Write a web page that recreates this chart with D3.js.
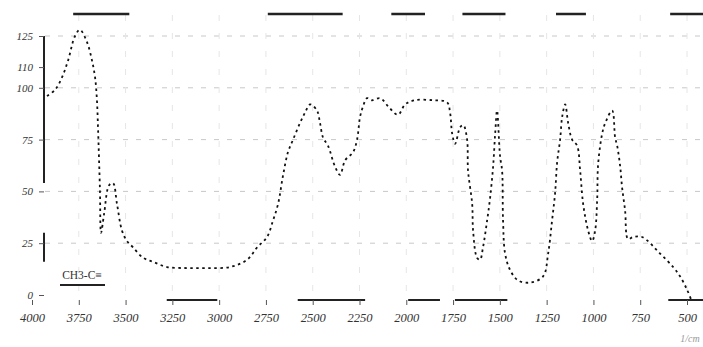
<!DOCTYPE html>
<html>
<head>
<meta charset="utf-8">
<script src="https://cdn.jsdelivr.net/npm/d3@7"></script>
<style>
  body { margin: 0; background: #fff; }
  svg { display: block; }
</style>
</head>
<body>
<figure id="spectrum" style="margin:0"></figure>
<script>
// wavenumber (1/cm) and transmittance
const wavenumber = [3920, 3877, 3840, 3808, 3770, 3744, 3706, 3679, 3663, 3653, 3647, 3637, 3631, 3615,
  3588, 3567, 3546, 3519, 3492, 3460, 3407, 3353, 3278, 3172, 3065, 2942, 2851, 2797, 2744, 2712,
  2685, 2658, 2632, 2605, 2568, 2541, 2514, 2477, 2461, 2445, 2418, 2381, 2354, 2327, 2284, 2263,
  2247, 2231, 2210, 2183, 2140, 2087, 2044, 2006, 1953, 1857, 1782, 1766, 1755, 1739, 1712, 1695,
  1675, 1670, 1648, 1643, 1622, 1606, 1590, 1568, 1552, 1536, 1525, 1515, 1499, 1488, 1483, 1472,
  1445, 1402, 1338, 1269, 1242, 1221, 1205, 1194, 1178, 1167, 1151, 1135, 1114, 1087, 1071, 1055,
  1028, 1007, 991, 980, 975, 953, 937, 900, 884, 873, 857, 847, 831, 815, 788, 740, 644, 574, 537, 499, 473];
const transmittance = [96, 99, 105, 113, 125, 128, 122, 113, 105, 94, 80, 51, 30, 39,
  53, 54, 44, 31, 26, 23, 18, 16, 13.5, 13, 13, 13.5, 17, 23, 28, 36,
  44, 58, 69, 75, 83, 88, 92, 89, 83, 76, 72, 62, 58, 65, 69, 75,
  86, 91, 95, 94, 95, 90, 87, 92, 94, 94, 93, 88, 78, 73, 81, 82,
  75, 60, 44, 31, 18, 17, 23, 36, 47, 62, 78, 89, 67, 60, 36, 20,
  12, 7, 6, 9, 20, 36, 49, 64, 75, 86, 92, 83, 75, 72, 60, 44,
  31, 26, 31, 46, 63, 78, 83, 89, 76, 72, 62, 52, 41, 27, 28, 28, 20, 13.5, 9, 2.4, -3.4];

const xTicks = [4000, 3750, 3500, 3250, 3000, 2750, 2500, 2250, 2000, 1750, 1500, 1250, 1000, 750, 500];
const yTicks = [0, 25, 50, 75, 100, 110, 125];
const yGrid = [25, 50, 75, 100, 125];

// broken frame pieces that survive in the scan (wavenumber ranges)
const topFrame = [[3780, 3480], [2740, 2340], [2080, 1900], [1700, 1470], [1200, 1040], [590, 400]];
const bottomFrame = [[3280, 3010], [2580, 2220], [1990, 1820], [1740, 1460], [600, 400]];
const yAxisPieces = [[125, 54], [30, 16]];

const width = 703, height = 347;
const svg = d3.select("figure#spectrum")
  .append("svg")
  .attr("width", width)
  .attr("height", height);

const x = d3.scaleLinear().domain([4000, 500]).range([32, 687]);
const y = d3.scaleLinear().domain([0, 125]).range([295, 36]);

// faint dashed grid
svg.append("g")
  .selectAll("line")
  .data(yGrid)
  .join("line")
  .attr("x1", 45).attr("x2", width)
  .attr("y1", d => y(d)).attr("y2", d => y(d))
  .attr("stroke", "#c8c8c8")
  .attr("stroke-width", 1)
  .attr("stroke-dasharray", "5,8");

svg.append("g")
  .selectAll("line")
  .data(xTicks.slice(1))
  .join("line")
  .attr("x1", d => x(d)).attr("x2", d => x(d))
  .attr("y1", 15).attr("y2", 300)
  .attr("stroke", "#e6e6e6")
  .attr("stroke-width", 1)
  .attr("stroke-dasharray", "6,12");

// frame fragments
svg.append("g")
  .selectAll("line")
  .data(topFrame)
  .join("line")
  .attr("x1", d => x(d[0])).attr("x2", d => x(d[1]))
  .attr("y1", 14).attr("y2", 14)
  .attr("stroke", "#222")
  .attr("stroke-width", 2.5);

svg.append("g")
  .selectAll("line")
  .data(bottomFrame)
  .join("line")
  .attr("x1", d => x(d[0])).attr("x2", d => x(d[1]))
  .attr("y1", 300).attr("y2", 300)
  .attr("stroke", "#222")
  .attr("stroke-width", 2);

svg.append("g")
  .selectAll("line")
  .data(yAxisPieces)
  .join("line")
  .attr("x1", 44).attr("x2", 44)
  .attr("y1", d => y(d[0])).attr("y2", d => y(d[1]))
  .attr("stroke", "#222")
  .attr("stroke-width", 2);

// x axis ticks + labels
const xAxis = svg.append("g")
  .attr("transform", "translate(0,300)")
  .call(d3.axisBottom(x).tickValues(xTicks).tickSize(5).tickPadding(8).tickFormat(d3.format("d")));
xAxis.select(".domain").remove();
xAxis.selectAll("line").attr("stroke", "#555");
xAxis.selectAll("text")
  .attr("font-family", "'Liberation Serif', serif")
  .attr("font-style", "italic")
  .attr("font-size", 12.5)
  .attr("fill", "#333");

// y axis labels
const yAxis = svg.append("g")
  .attr("transform", "translate(44,0)")
  .call(d3.axisLeft(y).tickValues(yTicks).tickSize(5).tickPadding(6));
yAxis.select(".domain").remove();
yAxis.selectAll("line").attr("stroke", "#555");
yAxis.selectAll("text")
  .attr("font-family", "'Liberation Serif', serif")
  .attr("font-style", "italic")
  .attr("font-size", 11)
  .attr("fill", "#333");

// spectrum trace
const line = d3.line()
  .x((d, i) => x(wavenumber[i]))
  .y((d, i) => y(transmittance[i]))
  .curve(d3.curveCatmullRom.alpha(0.5));

svg.append("path")
  .datum(transmittance)
  .attr("d", line)
  .attr("fill", "none")
  .attr("stroke", "#111")
  .attr("stroke-width", 1.8)
  .attr("stroke-dasharray", "2.5,3.5");

// group label
svg.append("text")
  .attr("x", 82).attr("y", 279)
  .attr("text-anchor", "middle")
  .attr("font-family", "'Liberation Serif', serif")
  .attr("font-size", 11.5)
  .attr("fill", "#333")
  .text("CH3-C≡");
svg.append("line")
  .attr("x1", 60).attr("x2", 105)
  .attr("y1", 285).attr("y2", 285)
  .attr("stroke", "#222")
  .attr("stroke-width", 2);

// unit
svg.append("text")
  .attr("x", 690).attr("y", 342)
  .attr("text-anchor", "middle")
  .attr("font-family", "'Liberation Serif', serif")
  .attr("font-style", "italic")
  .attr("font-size", 10)
  .attr("fill", "#999")
  .text("1/cm");
</script>
</body>
</html>
